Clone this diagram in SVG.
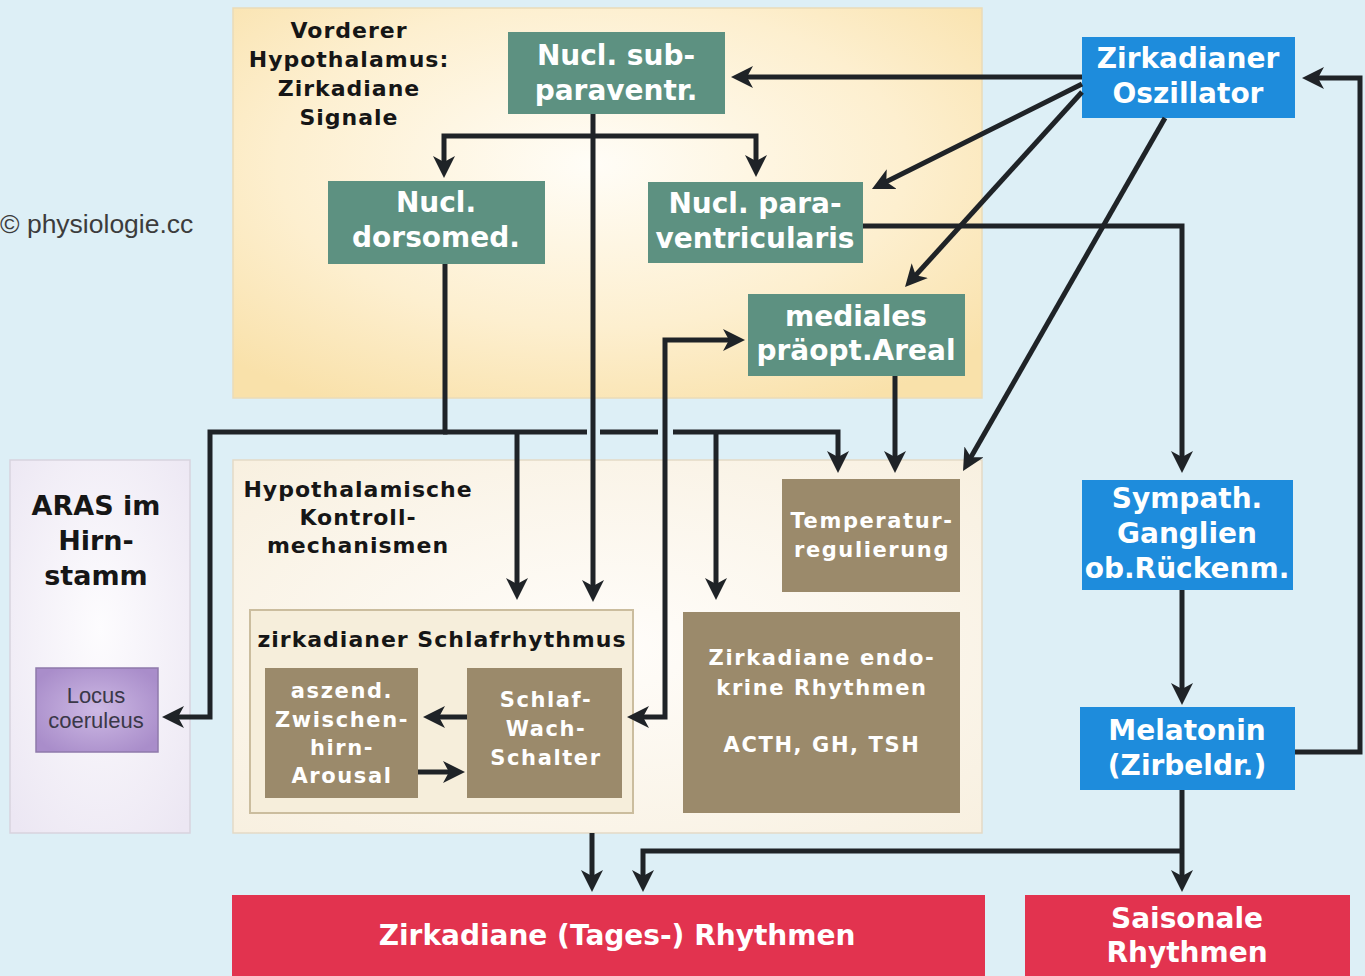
<svg xmlns="http://www.w3.org/2000/svg" width="1365" height="976" viewBox="0 0 1365 976">
<defs>
<radialGradient id="gTop" cx="0.48" cy="0.4" r="0.7">
<stop offset="0" stop-color="#fffdf7"/><stop offset="0.6" stop-color="#fdefcf"/><stop offset="1" stop-color="#f9e1aa"/>
</radialGradient>
<radialGradient id="gHyp" cx="0.5" cy="0.5" r="0.7">
<stop offset="0" stop-color="#fffdfa"/><stop offset="1" stop-color="#f8f0e0"/>
</radialGradient>
<radialGradient id="gAras" cx="0.5" cy="0.45" r="0.7">
<stop offset="0" stop-color="#fdfcfe"/><stop offset="1" stop-color="#ece7f3"/>
</radialGradient>
<radialGradient id="gLocus" cx="0.5" cy="0.5" r="0.6">
<stop offset="0" stop-color="#cdb9e4"/><stop offset="1" stop-color="#a98dca"/>
</radialGradient>
<marker id="ah" viewBox="0 0 22 22" markerWidth="22" markerHeight="22" refX="10" refY="11" markerUnits="userSpaceOnUse" orient="auto-start-reverse">
<path d="M0,0 L22,11 L0,22 L6,11 z" fill="#1f2327"/>
</marker>
<style>
.green{fill:#5d9181}
.blue{fill:#1e8cdc}
.tan{fill:#9b8a6b}
.red{fill:#e2334f}
.wt{font-family:"DejaVu Sans",Verdana,sans-serif;font-weight:bold;fill:#ffffff;text-anchor:middle}
.w28{font-size:28px}
.w20{font-size:21px;letter-spacing:1.6px}
.bt{font-family:"DejaVu Sans",Verdana,sans-serif;font-weight:bold;fill:#161616;text-anchor:middle}
.b22{font-size:22px;letter-spacing:1px}
.b27{font-size:27px}
.ln{fill:none;stroke:#1f2327;stroke-width:5}
.arr{marker-end:url(#ah)}
</style>
</defs>
<rect x="0" y="0" width="1365" height="976" fill="#ddeff6"/>
<text x="0" y="233" font-family="Liberation Sans,Arial,sans-serif" font-size="26.5" fill="#3c3c3c">© physiologie.cc</text>

<g id="panel-vorderer">
<rect x="233" y="8" width="749" height="390" fill="url(#gTop)" stroke="#eadbb8" stroke-width="1.5"/>
<text class="bt b22"><tspan x="349" y="38">Vorderer</tspan><tspan x="349" y="67">Hypothalamus:</tspan><tspan x="349" y="96">Zirkadiane</tspan><tspan x="349" y="125">Signale</tspan></text>
</g>
<g id="panel-hypothalamische">
<rect x="233" y="460" width="749" height="373" fill="url(#gHyp)" stroke="#e4dac6" stroke-width="1.5"/>
<text class="bt b22"><tspan x="358" y="497">Hypothalamische</tspan><tspan x="358" y="525">Kontroll-</tspan><tspan x="358" y="553">mechanismen</tspan></text>
</g>
<g id="panel-aras">
<rect x="10" y="460" width="180" height="373" fill="url(#gAras)" stroke="#d8d3de" stroke-width="1.5"/>
<text class="bt b27"><tspan x="96" y="515">ARAS im</tspan><tspan x="96" y="550">Hirn-</tspan><tspan x="96" y="585">stamm</tspan></text>
</g>
<g id="locus">
<rect x="36" y="668" width="122" height="84" fill="url(#gLocus)" stroke="#8f7aab" stroke-width="1.5"/>
<text font-family="Liberation Sans,Arial,sans-serif" font-size="22" fill="#3a3848" text-anchor="middle"><tspan x="96" y="703">Locus</tspan><tspan x="96" y="728">coeruleus</tspan></text>
</g>
<g id="schlafrhythmus">
<rect x="250" y="610" width="383" height="203" fill="#f6eedb" stroke="#cbbd9e" stroke-width="2"/>
<text class="bt b22" x="442" y="647">zirkadianer Schlafrhythmus</text>
</g>

<g id="sub-paraventr">
<rect class="green" x="508" y="32" width="217" height="82"/>
<text class="wt w28"><tspan x="616" y="65">Nucl. sub-</tspan><tspan x="616" y="100">paraventr.</tspan></text>
</g>
<g id="dorsomed">
<rect class="green" x="328" y="181" width="217" height="83"/>
<text class="wt w28"><tspan x="436" y="212">Nucl.</tspan><tspan x="436" y="247">dorsomed.</tspan></text>
</g>
<g id="paraventricularis">
<rect class="green" x="648" y="182" width="215" height="81"/>
<text class="wt w28"><tspan x="755" y="213">Nucl. para-</tspan><tspan x="755" y="248">ventricularis</tspan></text>
</g>
<g id="mediales">
<rect class="green" x="748" y="294" width="217" height="82"/>
<text class="wt w28"><tspan x="856" y="326">mediales</tspan><tspan x="856" y="360">präopt.Areal</tspan></text>
</g>
<g id="oszillator">
<rect class="blue" x="1082" y="37" width="213" height="81"/>
<text class="wt w28"><tspan x="1188" y="68">Zirkadianer</tspan><tspan x="1188" y="103">Oszillator</tspan></text>
</g>
<g id="sympath">
<rect class="blue" x="1082" y="480" width="211" height="110"/>
<text class="wt w28"><tspan x="1187" y="508">Sympath.</tspan><tspan x="1187" y="543">Ganglien</tspan><tspan x="1187" y="578">ob.Rückenm.</tspan></text>
</g>
<g id="melatonin">
<rect class="blue" x="1080" y="707" width="215" height="83"/>
<text class="wt w28"><tspan x="1187" y="740">Melatonin</tspan><tspan x="1187" y="775">(Zirbeldr.)</tspan></text>
</g>
<g id="temperatur">
<rect class="tan" x="782" y="479" width="178" height="113"/>
<text class="wt w20"><tspan x="872" y="528">Temperatur-</tspan><tspan x="872" y="557">regulierung</tspan></text>
</g>
<g id="endokrin">
<rect class="tan" x="683" y="612" width="277" height="201"/>
<text class="wt w20"><tspan x="822" y="665">Zirkadiane endo-</tspan><tspan x="822" y="695">krine Rhythmen</tspan><tspan x="822" y="752">ACTH, GH, TSH</tspan></text>
</g>
<g id="aszend">
<rect class="tan" x="265" y="668" width="153" height="130"/>
<text class="wt w20"><tspan x="342" y="698">aszend.</tspan><tspan x="342" y="727">Zwischen-</tspan><tspan x="342" y="755">hirn-</tspan><tspan x="342" y="783">Arousal</tspan></text>
</g>
<g id="schalter">
<rect class="tan" x="467" y="668" width="155" height="130"/>
<text class="wt w20"><tspan x="546" y="707">Schlaf-</tspan><tspan x="546" y="736">Wach-</tspan><tspan x="546" y="765">Schalter</tspan></text>
</g>
<g id="zirkadiane-rhythmen">
<rect class="red" x="232" y="895" width="753" height="81"/>
<text class="wt w28" x="617" y="945">Zirkadiane (Tages-) Rhythmen</text>
</g>
<g id="saisonale">
<rect class="red" x="1025" y="895" width="325" height="81"/>
<text class="wt w28"><tspan x="1187" y="928">Saisonale</tspan><tspan x="1187" y="962">Rhythmen</tspan></text>
</g>

<g id="connectors">
<path class="ln arr" d="M1082,77 L743,77"/>
<path class="ln arr" d="M1082,84 L882.7,183.6"/>
<path class="ln arr" d="M1082,92 L913.1,278.1"/>
<path class="ln arr" d="M1165,118 L969,460.6"/>
<path class="ln arr" d="M1295,752 L1360,752 L1360,78 L1314,78"/>
<path class="ln arr" d="M593,114 L593,590"/>
<path class="ln arr" d="M595,136 L444,136 L444,166"/>
<path class="ln arr" d="M591,136 L756,136 L756,165"/>
<path class="ln arr" d="M445,264 L445,432 L210,432 L210,717 L174,717"/>
<path class="ln arr" d="M443,432 L587,432 M600,432 L658,432 M673,432 L838,432 L838,461"/>
<path class="ln arr" d="M517,432 L517,588"/>
<path class="ln arr" d="M716,432 L716,588"/>
<path class="ln arr" d="M895,376 L895,461"/>
<path class="ln" d="M639,717 L665,717 L665,340 L733,340" marker-start="url(#ah)" marker-end="url(#ah)"/>
<path class="ln arr" d="M467,717 L435,717"/>
<path class="ln arr" d="M418,772 L453,772"/>
<path class="ln arr" d="M863,226 L1182,226 L1182,461"/>
<path class="ln arr" d="M1182,590 L1182,693"/>
<path class="ln arr" d="M1182,790 L1182,880"/>
<path class="ln arr" d="M1184,851 L643,851 L643,880"/>
<path class="ln arr" d="M592,833 L592,880"/>
</g>
</svg>
